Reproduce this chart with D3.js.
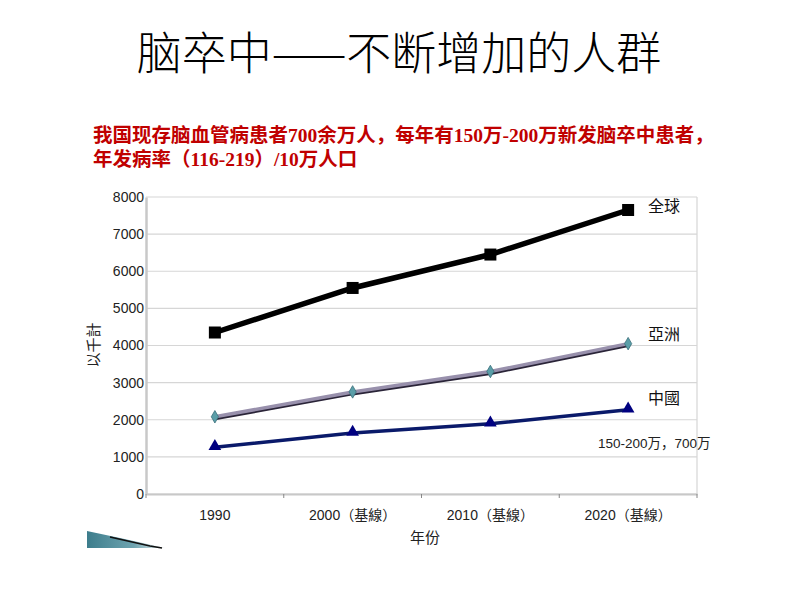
<!DOCTYPE html>
<html><head><meta charset="utf-8">
<script src="https://cdn.jsdelivr.net/npm/d3@7"></script>
<style>body{margin:0;background:#fff;}</style>
</head><body><svg id="c" width="800" height="600"></svg>
<script>
const categories = ["1990", "2000（基線）", "2010（基線）", "2020（基線）"];
const globalVals = [4350, 5550, 6450, 7650];
const asiaVals = [2080, 2750, 3300, 4050];
const chinaVals = [1260, 1640, 1890, 2270];
const yTicks = [0, 1000, 2000, 3000, 4000, 5000, 6000, 7000, 8000];
const seriesNames = ["全球", "亞洲", "中國"];

const svg = d3.select("#c");
const cjk = "'Noto Sans CJK SC', 'Noto Sans CJK TC', sans-serif";

svg.append("text").attr("x", 399).attr("y", 70).attr("text-anchor", "middle")
  .attr("font-family", cjk).attr("font-size", 45).attr("font-weight", 300).attr("fill", "#000")
  .text("脑卒中——不断增加的人群");

const sub = svg.append("g").attr("font-family", "'Liberation Serif', " + cjk)
  .attr("font-size", 19.5).attr("font-weight", "bold").attr("fill", "#c00000");
sub.append("text").attr("x", 93).attr("y", 142).text("我国现存脑血管病患者700余万人，每年有150万-200万新发脑卒中患者，");
sub.append("text").attr("x", 93).attr("y", 166).text("年发病率（116-219）/10万人口");

const x = d3.scaleBand().domain(categories).range([146, 697]);
const y = d3.scaleLinear().domain([0, 8000]).range([494, 197]);

// gridlines
svg.append("g").selectAll("line").data(yTicks).join("line")
  .attr("x1", 146).attr("x2", 697).attr("y1", d => y(d)).attr("y2", d => y(d))
  .attr("stroke", "#d6d6d6").attr("stroke-width", 1.2);
svg.append("line").attr("x1", 697).attr("x2", 697).attr("y1", y(8000)).attr("y2", y(0))
  .attr("stroke", "#d6d6d6").attr("stroke-width", 1.2);

// y axis
const ya = svg.append("g").attr("transform", "translate(146,0)")
  .call(d3.axisLeft(y).tickValues(yTicks).tickFormat(d3.format("d")).tickSize(0).tickPadding(2));
ya.attr("font-size", null).attr("font-family", null);
ya.select(".domain").attr("stroke", "#c8c8c8").attr("stroke-width", 2.5);
ya.selectAll("text").style("font-family", "'Liberation Sans', Arial").style("font-size", "14px").attr("fill", "#222");

// x axis
const xa = svg.append("g").attr("transform", "translate(0,494)")
  .call(d3.axisBottom(x).tickSize(0).tickPadding(16));
xa.attr("font-size", null).attr("font-family", null);
xa.select(".domain").attr("stroke", "#c8c8c8").attr("stroke-width", 2);
xa.selectAll("text").style("font-family", "'Liberation Sans', " + cjk).style("font-size", "14px").attr("fill", "#222");
const bounds = categories.map(c => x(c)).concat([x.range()[1]]);
xa.append("g").selectAll("line").data(bounds).join("line")
  .attr("x1", d => d).attr("x2", d => d).attr("y1", 0).attr("y2", 4)
  .attr("stroke", "#888").attr("stroke-width", 1);

svg.append("text").attr("x", 425).attr("y", 543).attr("text-anchor", "middle")
  .attr("font-family", cjk).attr("font-size", 15).attr("fill", "#222").text("年份");
svg.append("text").attr("transform", "translate(99,345) rotate(-90)").attr("text-anchor", "middle")
  .attr("font-family", cjk).attr("font-size", 15).attr("fill", "#222").text("以千計");

const cx = c => x(c) + x.bandwidth() / 2;
const line = vals => d3.line().x((d, i) => cx(categories[i])).y(d => y(d))(vals);

// china
svg.append("path").attr("d", line(chinaVals)).attr("fill", "none").attr("stroke", "#0a1a6a").attr("stroke-width", 3.5);
svg.append("g").selectAll("path").data(chinaVals).join("path")
  .attr("d", d3.symbol(d3.symbolTriangle, 70)())
  .attr("transform", (d, i) => `translate(${cx(categories[i])},${y(d) - 1})`)
  .attr("fill", "#000080");

// asia (shadow + line)
svg.append("path").attr("d", line(asiaVals)).attr("fill", "none").attr("stroke", "#2a2438").attr("stroke-width", 4)
  .attr("transform", "translate(0,1.5)");
svg.append("path").attr("d", line(asiaVals)).attr("fill", "none").attr("stroke", "#9890ac").attr("stroke-width", 3.5);
svg.append("g").selectAll("path").data(asiaVals).join("path")
  .attr("d", d3.symbol(d3.symbolDiamond, 45)())
  .attr("transform", (d, i) => `translate(${cx(categories[i])},${y(d)})`)
  .attr("fill", "#5a9ea8").attr("stroke", "#3a6f7a").attr("stroke-width", 0.8);

// global
svg.append("path").attr("d", line(globalVals)).attr("fill", "none").attr("stroke", "#000").attr("stroke-width", 5.5);
svg.append("g").selectAll("rect").data(globalVals).join("rect")
  .attr("x", (d, i) => cx(categories[i]) - 6).attr("y", d => y(d) - 6)
  .attr("width", 12).attr("height", 12).attr("fill", "#000");

// labels
const lab = svg.append("g").attr("font-family", cjk).attr("font-size", 16).attr("fill", "#111");
lab.append("text").attr("x", 648).attr("y", 212).text(seriesNames[0]);
lab.append("text").attr("x", 648).attr("y", 340).text(seriesNames[1]);
lab.append("text").attr("x", 648).attr("y", 404).text(seriesNames[2]);
svg.append("text").attr("x", 598).attr("y", 448).attr("font-family", "'Liberation Sans', " + cjk)
  .attr("font-size", 13.5).attr("fill", "#222").text("150-200万，700万");

// decorative swoosh bottom-left
const grad = svg.append("defs").append("linearGradient").attr("id", "sw").attr("x1", 0).attr("x2", 1);
grad.append("stop").attr("offset", 0).attr("stop-color", "#3d7d8c");
grad.append("stop").attr("offset", 0.6).attr("stop-color", "#6ea4b0");
grad.append("stop").attr("offset", 1).attr("stop-color", "#eef2f3");
svg.append("path").attr("d", "M87,531 L120,538 L165,548 L87,548 Z").attr("fill", "url(#sw)");
svg.append("path").attr("d", "M110,537 L150,546 L162,548").attr("fill", "none").attr("stroke", "#111").attr("stroke-width", 1.5);
</script></body></html>
